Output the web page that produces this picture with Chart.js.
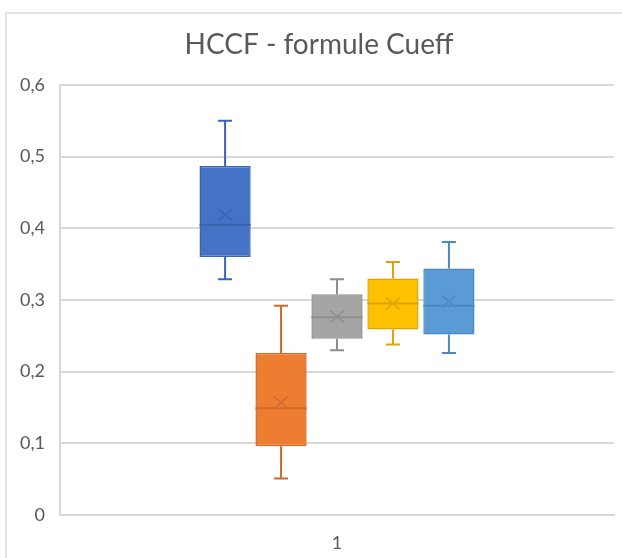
<!DOCTYPE html>
<html>
<head>
<meta charset="utf-8">
<script src="https://cdn.jsdelivr.net/npm/chart.js@4.4.0/dist/chart.umd.min.js"></script>
<style>
  html, body { margin: 0; padding: 0; background: #ffffff; }
  #wrap { position: relative; width: 622px; height: 558px; }
  #frame {
    position: absolute; left: 5px; top: 12px; right: -4px; bottom: -4px;
    border: 2px solid #e3e3e3; pointer-events: none;
  }
  canvas { position: absolute; left: 0; top: 0; }
</style>
</head>
<body>
<div id="wrap">
  <canvas id="chart" width="622" height="558"></canvas>
  <div id="frame"></div>
</div>
<script>
// Chart values
const chartTitle = 'HCCF - formule Cueff';
const categories = ['1'];
const seriesNames = ['Série 1', 'Série 2', 'Série 3', 'Série 4', 'Série 5'];
const minValues = [0.329, 0.051, 0.230, 0.238, 0.226];
const q1Values = [0.360, 0.096, 0.246, 0.259, 0.252];
const medianValues = [0.405, 0.149, 0.276, 0.295, 0.292];
const q3Values = [0.487, 0.226, 0.308, 0.330, 0.344];
const maxValues = [0.550, 0.292, 0.329, 0.353, 0.381];
const meanValues = [0.419, 0.157, 0.277, 0.295, 0.298];
const yTicks = [0, 0.1, 0.2, 0.3, 0.4, 0.5, 0.6];

const fillColors = ['#4472c4', '#ed7d31', '#a5a5a5', '#ffc000', '#5b9bd5'];
const lineColors = ['#3a64b0', '#d2692a', '#8e8e8e', '#dca500', '#4b88c2'];

const FONT = 'Lato, "Open Sans", sans-serif';

// title sits a little left of the plot centre, like the Excel original
const titlePlugin = {
  id: 'excelTitle',
  afterDraw(chart) {
    const ctx = chart.ctx;
    ctx.save();
    ctx.font = `28px ${FONT}`;
    ctx.fillStyle = '#595959';
    ctx.textAlign = 'center';
    ctx.textBaseline = 'middle';
    ctx.fillText(chartTitle, 319, 45);
    ctx.restore();
  }
};

// draws whiskers, median line and mean cross on top of the floating bars
const boxPlotPlugin = {
  id: 'boxPlot',
  afterDatasetsDraw(chart) {
    const ctx = chart.ctx;
    const yScale = chart.scales.y;
    chart.data.datasets.forEach((ds, i) => {
      const bar = chart.getDatasetMeta(i).data[0];
      const x = bar.x;
      const half = bar.width / 2;
      const yMin = yScale.getPixelForValue(minValues[i]);
      const yQ1 = yScale.getPixelForValue(q1Values[i]);
      const yMed = yScale.getPixelForValue(medianValues[i]);
      const yQ3 = yScale.getPixelForValue(q3Values[i]);
      const yMax = yScale.getPixelForValue(maxValues[i]);
      const yMean = yScale.getPixelForValue(meanValues[i]);
      const cap = 7;

      ctx.save();
      ctx.strokeStyle = lineColors[i];
      ctx.lineWidth = 2;
      ctx.beginPath();
      // whiskers
      ctx.moveTo(x, yQ3); ctx.lineTo(x, yMax);
      ctx.moveTo(x - cap, yMax); ctx.lineTo(x + cap, yMax);
      ctx.moveTo(x, yQ1); ctx.lineTo(x, yMin);
      ctx.moveTo(x - cap, yMin); ctx.lineTo(x + cap, yMin);
      // median
      ctx.moveTo(x - half, yMed); ctx.lineTo(x + half, yMed);
      ctx.stroke();
      // mean cross
      ctx.lineWidth = 1.5;
      ctx.beginPath();
      ctx.moveTo(x - 7, yMean - 6); ctx.lineTo(x + 7, yMean + 6);
      ctx.moveTo(x - 7, yMean + 6); ctx.lineTo(x + 7, yMean - 6);
      ctx.stroke();
      ctx.restore();
    });
  }
};

const datasets = seriesNames.map((name, i) => ({
  label: name,
  data: [[q1Values[i], q3Values[i]]],
  backgroundColor: fillColors[i],
  borderColor: lineColors[i],
  borderWidth: 1.5,
  borderSkipped: false,
  categoryPercentage: 0.505,
  barPercentage: 0.915
}));

new Chart(document.getElementById('chart'), {
  type: 'bar',
  data: { labels: categories, datasets },
  options: {
    responsive: false,
    animation: false,
    layout: { padding: { left: 0, right: 8, top: 85, bottom: 0 } },
    plugins: {
      legend: { display: false },
      tooltip: { enabled: false },
      title: { display: false }
    },
    scales: {
      x: {
        grid: { display: false },
        border: { display: true, color: '#d9d9d9', width: 2 },
        ticks: { color: '#595959', font: { family: FONT, size: 18 }, padding: 9 },
        afterFit: (scale) => { scale.height = 43; }
      },
      y: {
        min: 0,
        max: 0.6,
        afterBuildTicks: (scale) => { scale.ticks = yTicks.map((v) => ({ value: v })); },
        grid: { color: '#d9d9d9', lineWidth: 2, drawTicks: false },
        border: { display: true, color: '#d9d9d9', width: 2 },
        ticks: {
          color: '#595959',
          font: { family: FONT, size: 18 },
          padding: 15,
          callback: (v) => (v === 0 ? '0' : v.toFixed(1).replace('.', ','))
        },
        afterFit: (scale) => { scale.width = 60; }
      }
    }
  },
  plugins: [boxPlotPlugin, titlePlugin]
});
</script>
</body>
</html>
